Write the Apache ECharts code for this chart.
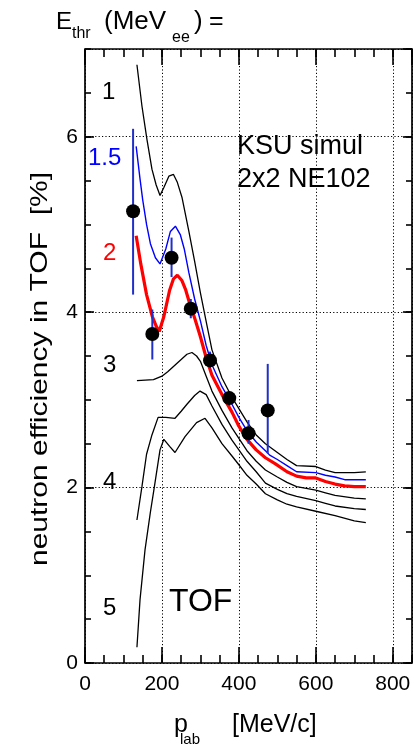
<!DOCTYPE html>
<html><head><meta charset="utf-8">
<script src="https://cdn.jsdelivr.net/npm/echarts@6/dist/echarts.min.js"></script>
<style>html,body{margin:0;padding:0;background:#fff}#c{width:417px;height:748px}</style>
</head><body><div id="c"></div>
<script>
// Curves: neutron efficiency vs p_lab for thresholds 1, 1.5, 2, 3, 4, 5 MeVee
const c1X = [135,148,161,174,185,195,205,218,230,240,252,270,285,300,317,330,356,382,400,421,445,469,500,525,550,600,625,650,675,700,730];
const c1Y = [6.82,6.35,5.97,5.63,5.45,5.33,5.42,5.55,5.57,5.48,5.31,4.92,4.58,4.22,3.85,3.57,3.25,3.03,2.90,2.75,2.60,2.50,2.40,2.32,2.25,2.24,2.20,2.17,2.17,2.17,2.18];

const c15X = [133,143,150,160,170,183,195,210,222,235,248,258,270,285,300,315,330,356,382,400,421,445,469,480,500,525,550,600,625,650,675,700,730];
const c15Y = [5.89,5.52,5.28,5.00,4.78,4.62,4.55,4.72,4.92,4.98,4.88,4.72,4.45,4.15,3.90,3.62,3.40,3.15,2.95,2.80,2.65,2.52,2.42,2.37,2.32,2.25,2.18,2.17,2.14,2.12,2.09,2.09,2.09];

const c2X = [133,145,160,175,185,193,205,220,230,240,252,262,270,286,300,315,330,356,382,400,421,445,469,495,525,550,575,600,625,650,675,700,730];
const c2Y = [4.87,4.55,4.20,3.95,3.84,3.78,3.95,4.25,4.38,4.42,4.36,4.25,4.13,3.92,3.72,3.48,3.28,3.06,2.86,2.70,2.55,2.43,2.34,2.27,2.18,2.13,2.11,2.11,2.07,2.04,2.02,2.01,2.01];

const c3X = [135,178,200,215,230,250,265,278,290,300,315,330,356,382,400,421,445,469,500,525,550,600,625,650,700,730];
const c3Y = [3.22,3.23,3.27,3.32,3.38,3.46,3.52,3.54,3.50,3.44,3.27,3.10,2.88,2.68,2.56,2.42,2.30,2.20,2.12,2.06,2.01,1.97,1.94,1.91,1.88,1.87];

const c4X = [135,148,160,174,190,210,234,250,265,285,299,315,330,356,382,400,421,445,469,500,525,550,600,625,650,700,730];
const c4Y = [1.63,2.01,2.38,2.60,2.80,2.80,2.79,2.87,2.95,3.05,3.10,3.06,2.93,2.72,2.54,2.43,2.30,2.18,2.05,1.98,1.93,1.90,1.85,1.82,1.79,1.76,1.75];

const c5X = [135,143,156,170,180,195,205,220,234,260,290,312,330,356,382,400,421,445,469,500,525,550,600,650,700,730];
const c5Y = [0.18,0.72,1.29,1.72,2.00,2.43,2.55,2.47,2.40,2.58,2.74,2.79,2.68,2.50,2.36,2.26,2.14,2.04,1.93,1.86,1.81,1.78,1.73,1.68,1.62,1.60];

// Measured points with error bars
const ptX = [125,175,225,275,325,375,425,475];
const ptY = [5.15,3.75,4.62,4.04,3.45,3.02,2.62,2.88];
const errLo = [4.20,3.46,4.40,3.93,3.36,2.93,2.50,2.39];
const errHi = [6.09,4.03,4.85,4.15,3.55,3.10,2.77,3.41];

const xMin = 0, xMax = 850, xMajor = 200, xMinor = 50;
const yMin = 0, yMax = 7, yMajor = 2, yMinor = 0.5;

const FONT = '"Liberation Sans", Arial, Helvetica, sans-serif';
const pair = (xs, ys) => xs.map((x, i) => [x, ys[i]]);

function xAx(pos, interval, isMain, len) {
  return {
    type: 'value', position: pos, min: xMin, max: xMax, interval: interval,
    axisLine: {show: false, onZero: false},
    axisTick: {show: true, inside: true, length: len, lineStyle: {color: '#000', width: 1.6}},
    axisLabel: {show: isMain && pos === 'bottom', fontSize: 21, color: '#000', fontFamily: FONT, margin: 11, showMaxLabel: false},
    splitLine: {show: isMain && pos === 'bottom', lineStyle: {color: '#000', type: [1.2, 2.2], width: 1}}
  };
}
function yAx(pos, interval, isMain, len) {
  return {
    type: 'value', position: pos, min: yMin, max: yMax, interval: interval,
    axisLine: {show: false, onZero: false},
    axisTick: {show: true, inside: true, length: len, lineStyle: {color: '#000', width: 1.6}},
    axisLabel: {show: isMain && pos === 'left', fontSize: 21, color: '#000', fontFamily: FONT, margin: 7, showMaxLabel: false},
    splitLine: {show: isMain && pos === 'left', lineStyle: {color: '#000', type: [1.2, 2.2], width: 1}}
  };
}

const lineSeries = (xs, ys, color, width) => ({
  type: 'line', xAxisIndex: 0, yAxisIndex: 0, data: pair(xs, ys),
  showSymbol: false, symbol: 'none', smooth: false,
  lineStyle: {color: color, width: width}, z: 3
});

function txt(text, x, y, size, color, extra) {
  return {
    type: 'text', x: x, y: y, z: 100,
    style: Object.assign({text: text, font: size + 'px ' + FONT, fill: color || '#000',
      textAlign: 'left', textVerticalAlign: 'middle', align: 'left', verticalAlign: 'middle'}, extra || {})
  };
}

const chart = echarts.init(document.getElementById('c'), null, {renderer: 'canvas'});
const option = {
  animation: false,
  backgroundColor: '#fff',
  grid: {left: 85, right: 5, top: 49, bottom: 85, show: true, borderColor: '#000', borderWidth: 1.7,
         backgroundColor: 'transparent', containLabel: false, outerBoundsMode: 'none'},
  xAxis: [
    xAx('bottom', xMajor, true, 16), xAx('bottom', xMinor, false, 8),
    xAx('top', xMajor, false, 16), xAx('top', xMinor, false, 8)
  ],
  yAxis: [
    yAx('left', yMajor, true, 9), yAx('left', yMinor, false, 6),
    yAx('right', yMajor, false, 9), yAx('right', yMinor, false, 6)
  ],
  series: [
    lineSeries(c1X, c1Y, '#000', 1.3),
    lineSeries(c3X, c3Y, '#000', 1.3),
    lineSeries(c4X, c4Y, '#000', 1.3),
    lineSeries(c5X, c5Y, '#000', 1.3),
    lineSeries(c15X, c15Y, '#0000ff', 1.4),
    lineSeries(c2X, c2Y, '#ff0000', 3.2),
    {
      type: 'custom', xAxisIndex: 0, yAxisIndex: 0, z: 4,
      data: ptX.map((x, i) => [x, errLo[i], errHi[i]]),
      encode: {x: 0, y: [1, 2]},
      renderItem: function (params, api) {
        const a = api.coord([api.value(0), api.value(1)]);
        const b = api.coord([api.value(0), api.value(2)]);
        return {type: 'line', shape: {x1: a[0], y1: a[1], x2: b[0], y2: b[1]},
                style: {stroke: '#1f2fc8', lineWidth: 2}};
      }
    },
    {
      type: 'scatter', xAxisIndex: 0, yAxisIndex: 0, z: 5,
      data: pair(ptX, ptY), symbol: 'circle', symbolSize: 14,
      itemStyle: {color: '#000', opacity: 1}
    }
  ],
  graphic: [
    txt('E', 56, 22, 24),
    txt('thr', 72, 34, 16),
    txt('(MeV', 104, 22, 26),
    txt('ee', 172, 38, 16),
    txt(')', 194, 22, 26),
    txt('=', 209, 22, 25),
    txt('1', 102, 92, 24),
    txt('1.5', 88, 158, 24, '#0000ff'),
    txt('2', 103, 253, 24, '#ff0000'),
    txt('3', 103, 365, 24),
    txt('4', 103, 482, 24),
    txt('5', 103, 608, 24),
    txt('KSU simul', 237, 147, 27),
    txt('2x2 NE102', 237, 180, 27),
    txt('TOF', 169, 602, 32),
    txt('p', 174, 725, 25),
    txt('lab', 180, 740, 15),
    txt('[MeV/c]', 232, 725, 25),
    {type: 'text', x: 40, y: 369, rotation: Math.PI / 2, scaleX: 1.25, z: 100,
     style: {text: 'neutron efficiency in TOF  [%]', font: '24px ' + FONT, fill: '#000',
             textAlign: 'center', textVerticalAlign: 'middle', align: 'center', verticalAlign: 'middle'}}
  ]
};
chart.setOption(option);
</script>
</body></html>
